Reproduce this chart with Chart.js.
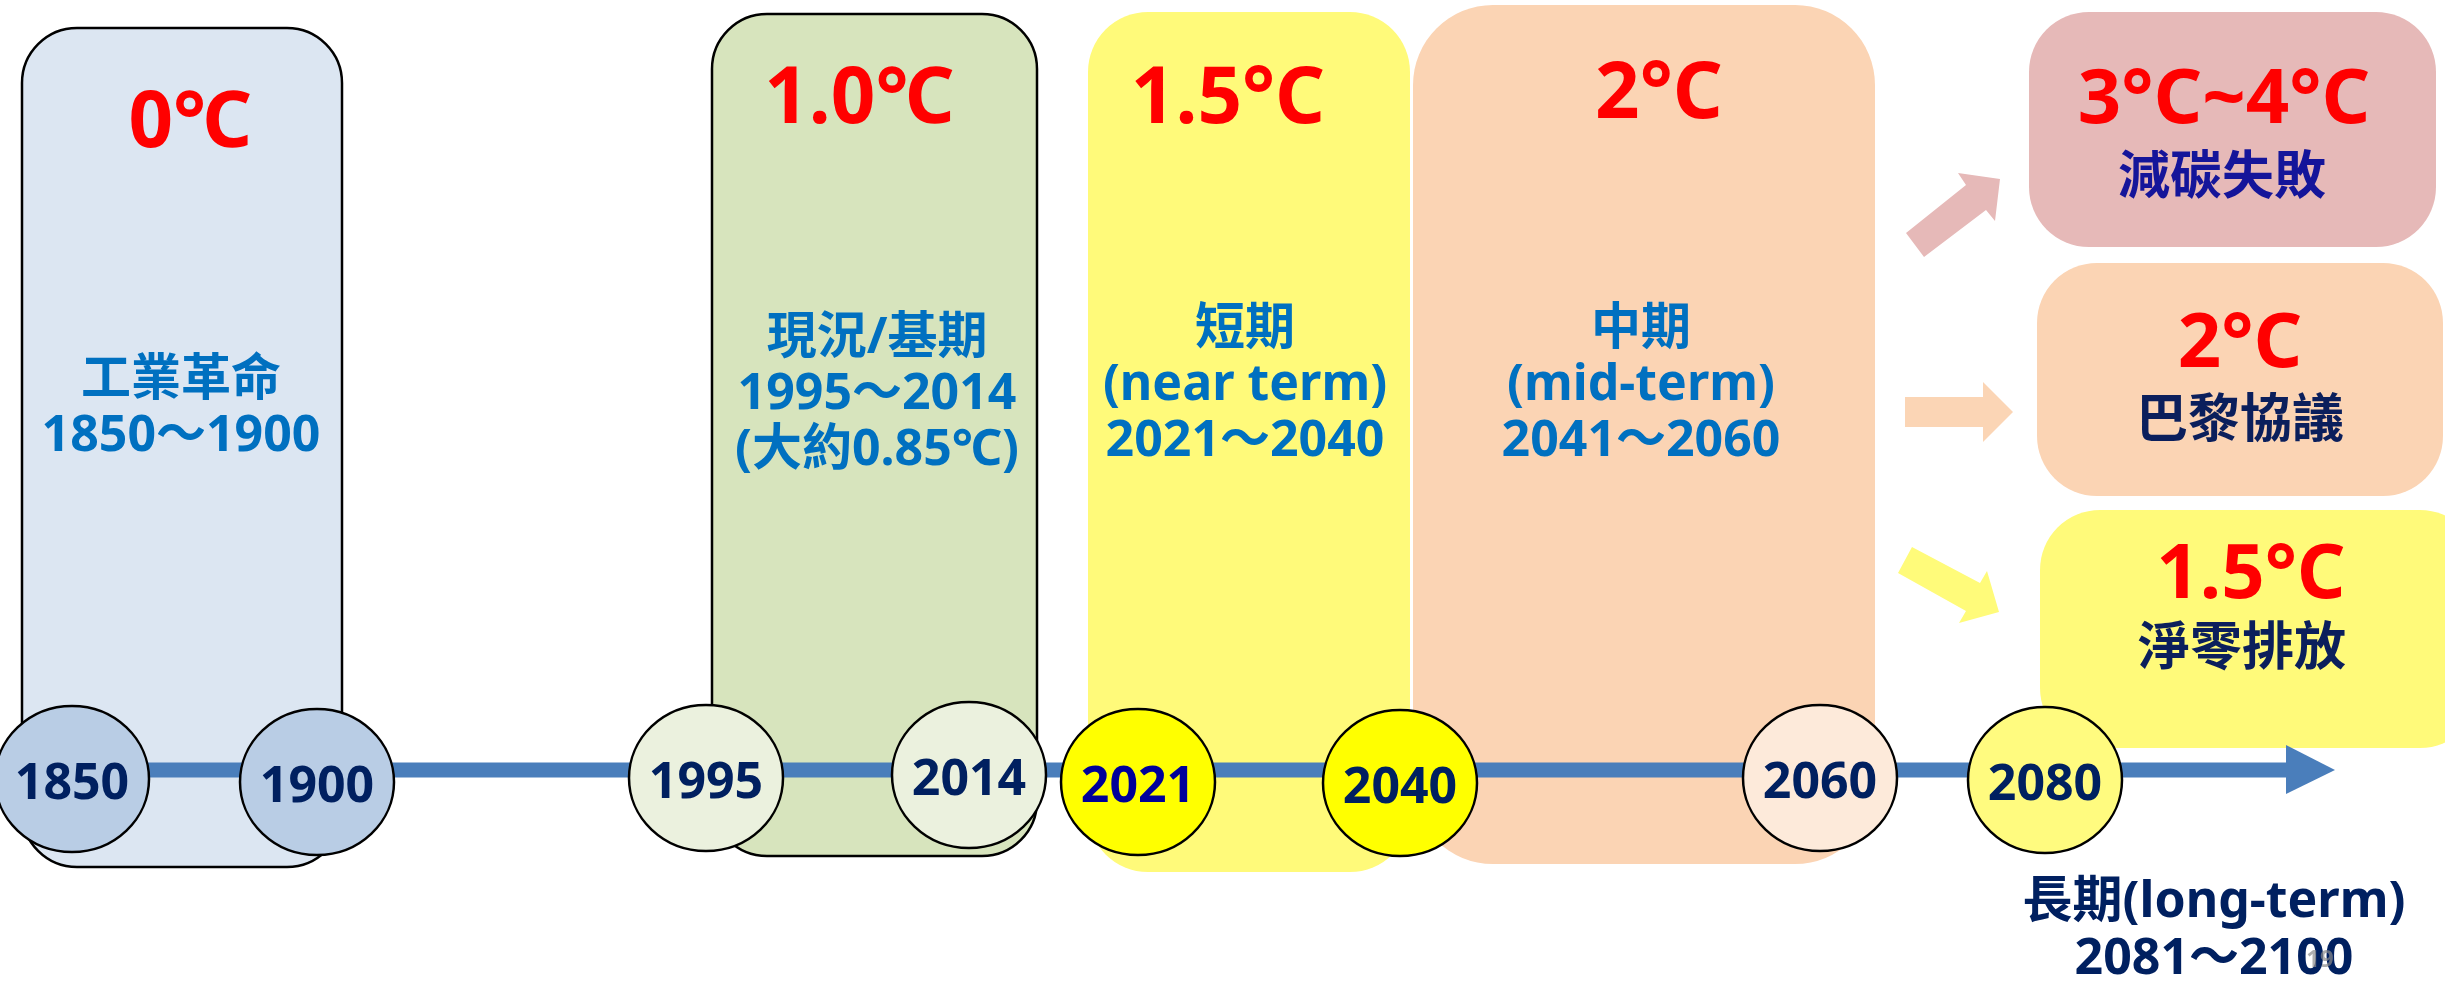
<!DOCTYPE html>
<html>
<head>
<meta charset="utf-8">
<script src="https://cdn.jsdelivr.net/npm/chart.js@4.4.1/dist/chart.umd.min.js"></script>
<style>
  html, body { margin: 0; padding: 0; background: #fff; overflow: hidden; }
  #wrap { width: 2445px; height: 987px; }
</style>
</head>
<body>
<div id="wrap"><canvas id="timelineChart" width="2445" height="987"></canvas></div>
<script>
// timeline years (circle labels)
const years = [1850, 1900, 1995, 2014, 2021, 2040, 2060, 2080];

// warming periods
const periodTemps = ["0℃", "1.0℃", "1.5°C", "2°C"];
const periodLabels = [
    ["工業革命", "1850～1900"],
    ["現況/基期", "1995～2014", "(大約0.85℃)"],
    ["短期", "(near term)", "2021～2040"],
    ["中期", "(mid-term)", "2041～2060"]
];

// long-term scenarios
const scenarioTemps = ["3°C~4°C", "2°C", "1.5°C"];
const scenarioLabels = ["減碳失敗", "巴黎協議", "淨零排放"];
const longTermLabel = ["長期(long-term)", "2081～2100"];

// ---- layout (slide units = px) ----
const W = 2445, H = 987;
const axisY = 770;
const yearPos = [[72, 779], [317, 782], [706, 778], [969, 775], [1138, 782], [1400, 783], [1820, 778], [2045, 780]];
const yearFill = ["#b9cde5", "#b9cde5", "#ebf1de", "#ebf1de", "#ffff00", "#ffff00", "#fdeada", "#fffb7f"];
const yearColor = ["#002060", "#002060", "#002060", "#002060", "#000099", "#002060", "#002060", "#002060"];

const periodBoxes = [
    { x0: 22, x1: 342, y0: 28, y1: 867, r: 55, fill: "#dce6f2", stroke: "#000", tx: 190, ty: 125, lx: 181, ly: 381 },
    { x0: 712, x1: 1037, y0: 14, y1: 856, r: 55, fill: "#d7e4bd", stroke: "#000", tx: 859, ty: 101, lx: 877, ly: 339 },
    { x0: 1088, x1: 1410, y0: 12, y1: 872, r: 60, fill: "#fffa7a", tx: 1228, ty: 101, lx: 1245, ly: 330 },
    { x0: 1413, x1: 1875, y0: 5, y1: 864, r: 80, fill: "#fbd4b4", tx: 1659, ty: 96, lx: 1641, ly: 330 }
];
const scenarioBoxes = [
    { x0: 2029, x1: 2436, y0: 12, y1: 247, r: 60, fill: "#e6b9b8", tx: 2224, ty: 101, lx: 2222, ly: 179, color: "#15159a" },
    { x0: 2037, x1: 2443, y0: 263, y1: 496, r: 60, fill: "#fbd4b4", tx: 2240, ty: 345, lx: 2240, ly: 422, color: "#0b1f5c" },
    { x0: 2040, x1: 2480, y0: 510, y1: 748, r: 60, fill: "#fffa7a", tx: 2251, ty: 576, lx: 2242, ly: 650, color: "#0b1f5c" }
];
const pointers = [
    { fill: "#e6b9b8", pts: [[1906, 233], [1924, 257], [1986, 210], [1995, 221], [2000, 179], [1958, 173], [1966, 185]] },
    { fill: "#fbd5b5", pts: [[1905, 397], [1983, 397], [1983, 382], [2013, 412], [1983, 442], [1983, 427], [1905, 427]] },
    { fill: "#fffb7a", pts: [[1912, 547], [1898, 573], [1966, 611], [1959, 623], [1999, 612], [1987, 571], [1980, 583]] }
];

const FONT = '"Noto Sans", "Noto Sans CJK TC", sans-serif';
const BLUE = "#0070c0";

function ellipseStyle(fill) {
    const c = document.createElement("canvas");
    c.width = 158; c.height = 150;
    const g = c.getContext("2d");
    g.beginPath();
    g.ellipse(79, 75, 77, 73, 0, 0, Math.PI * 2);
    g.fillStyle = fill;
    g.fill();
    g.lineWidth = 2.5;
    g.strokeStyle = "#000";
    g.stroke();
    return c;
}

function roundBox(ctx, x, y, b) {
    const x0 = x.getPixelForValue(b.x0), x1 = x.getPixelForValue(b.x1);
    const y0 = y.getPixelForValue(b.y0), y1 = y.getPixelForValue(b.y1);
    ctx.beginPath();
    ctx.roundRect(x0, y0, x1 - x0, y1 - y0, b.r);
    ctx.fillStyle = b.fill;
    ctx.fill();
    if (b.stroke) {
        ctx.lineWidth = 2.5;
        ctx.strokeStyle = b.stroke;
        ctx.stroke();
    }
}

function text(ctx, x, y, str, px, py, size, color) {
    ctx.font = "bold " + size + "px " + FONT;
    ctx.fillStyle = color;
    ctx.textAlign = "center";
    ctx.textBaseline = "middle";
    ctx.fillText(str, x.getPixelForValue(px), y.getPixelForValue(py));
}

const diagramPlugin = {
    id: "diagram",
    beforeDatasetsDraw(chart) {
        const { ctx, scales: { x, y } } = chart;
        ctx.save();
        periodBoxes.forEach(b => roundBox(ctx, x, y, b));
        scenarioBoxes.forEach(b => roundBox(ctx, x, y, b));
        pointers.forEach(p => {
            ctx.beginPath();
            p.pts.forEach(([px, py], i) => {
                const X = x.getPixelForValue(px), Y = y.getPixelForValue(py);
                i ? ctx.lineTo(X, Y) : ctx.moveTo(X, Y);
            });
            ctx.closePath();
            ctx.fillStyle = p.fill;
            ctx.fill();
        });
        // timeline arrow head
        ctx.beginPath();
        ctx.moveTo(x.getPixelForValue(2286), y.getPixelForValue(745));
        ctx.lineTo(x.getPixelForValue(2335), y.getPixelForValue(axisY));
        ctx.lineTo(x.getPixelForValue(2286), y.getPixelForValue(794));
        ctx.closePath();
        ctx.fillStyle = "#4a7ebb";
        ctx.fill();
        ctx.restore();
    },
    afterDatasetsDraw(chart) {
        const { ctx, scales: { x, y } } = chart;
        ctx.save();
        periodBoxes.forEach((b, i) => {
            text(ctx, x, y, periodTemps[i], b.tx, b.ty, 78, "#ff0000");
            periodLabels[i].forEach((s, j) => text(ctx, x, y, s, b.lx, b.ly + j * 56, 50, BLUE));
        });
        scenarioBoxes.forEach((b, i) => {
            text(ctx, x, y, scenarioTemps[i], b.tx, b.ty, 76, "#ff0000");
            text(ctx, x, y, scenarioLabels[i], b.lx, b.ly, 52, b.color);
        });
        years.forEach((yr, i) => {
            text(ctx, x, y, String(yr), yearPos[i][0], yearPos[i][1] + 6, 50, yearColor[i]);
        });
        text(ctx, x, y, longTermLabel[0], 2214, 903, 50, "#002060");
        text(ctx, x, y, longTermLabel[1], 2214, 960, 50, "#002060");
        text(ctx, x, y, "19", 2320, 960, 24, "rgba(140,140,140,0.7)");
        ctx.restore();
    }
};

new Chart(document.getElementById("timelineChart"), {
    type: "scatter",
    data: {
        datasets: [
            {
                label: "years",
                data: years.map((yr, i) => ({ x: yearPos[i][0], y: yearPos[i][1] })),
                pointStyle: yearFill.map(ellipseStyle),
                pointRadius: 75,
                clip: false,
                order: 1
            },
            {
                type: "line",
                label: "timeline",
                data: [{ x: 0, y: axisY }, { x: 2288, y: axisY }],
                borderColor: "#4a7ebb",
                borderWidth: 15,
                pointRadius: 0,
                clip: false,
                order: 2
            }
        ]
    },
    plugins: [diagramPlugin],
    options: {
        responsive: false,
        devicePixelRatio: 1,
        animation: false,
        layout: { padding: 0, autoPadding: false },
        plugins: { legend: { display: false }, tooltip: { enabled: false } },
        events: [],
        scales: {
            x: { type: "linear", min: 0, max: W, display: false },
            y: { type: "linear", min: 0, max: H, reverse: true, display: false }
        }
    }
});
</script>
</body>
</html>
